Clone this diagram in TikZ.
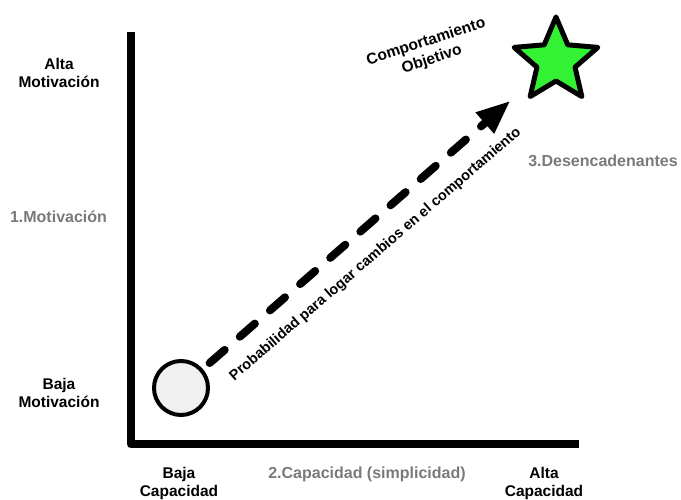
\documentclass[tikz,border=0pt]{standalone}
\usepackage{fontspec}
\setmainfont{Liberation Sans}
\usetikzlibrary{arrows.meta,positioning,shapes.geometric}
\definecolor{dimgray}{HTML}{7A7A7A}
\definecolor{goalgreen}{HTML}{33F233}

\begin{document}
\begin{tikzpicture}[x=1pt,y=1pt,
    lvl/.style={align=center, inner sep=0pt, font=\fontsize{15.5}{18.5}\selectfont\bfseries},
    dim/.style={text=dimgray, inner sep=0pt, font=\fontsize{16}{19}\selectfont\bfseries}]
    \useasboundingbox (0,0) rectangle (681,500);

    % Axes
    \draw[line width=8pt, line join=round] (131,468) -- (131,55.5) -- (579,55.5);

    % Start and goal
    \node[circle, draw, line width=4pt, fill=gray!12, minimum size=54pt, inner sep=0pt] (inicio) at (181,112) {};
    \node[star, star points=5, star point ratio=2.2, draw, line width=5pt, line join=round, fill=goalgreen, minimum size=88pt, inner sep=0pt] (meta) at (556,439) {};

    % Dashed arrow
    \draw[line width=8pt, dash pattern=on 20pt off 20pt, line cap=round, -{Triangle[length=34pt,width=26pt]}, shorten <=9pt, shorten >=27pt] (inicio) -- (meta);

    % Level labels
    \node[lvl, anchor=north] (altaMot) at (59,442) {Alta\\Motivación};
    \node[lvl, anchor=north] (bajaMot) at (59,122) {Baja\\Motivación};
    \node[lvl, anchor=north] (bajaCap) at (179,33) {Baja\\Capacidad};
    \node[lvl, anchor=north] (altaCap) at (544,33) {Alta\\Capacidad};
    \node[lvl, rotate=18] (objetivo) at (429,449) {Comportamiento\\Objetivo};
    \node[lvl, rotate=40.8, font=\fontsize{14.5}{17}\selectfont\bfseries] (prob) at (375.5,245.5) {Probabilidad para logar cambios en el comportamiento};

    % Dimensions
    \node[dim, anchor=base] (motiv) at (58.5,277.5) {1.Motivación};
    \node[dim, anchor=base] (capac) at (367,21) {2.Capacidad (simplicidad)};
    \node[dim, anchor=base] (desenc) at (603,333) {3.Desencadenantes};
\end{tikzpicture}
\end{document}
